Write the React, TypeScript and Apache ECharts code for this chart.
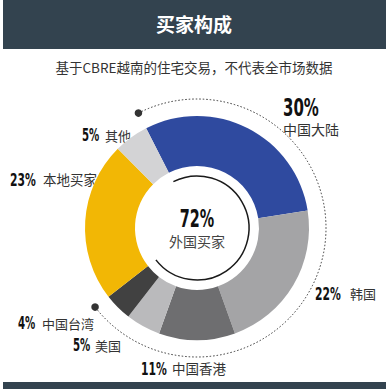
import React, { useEffect, useRef } from "react";
import * as echarts from "echarts";

const title = "买家构成";
const subtitle = "基于CBRE越南的住宅交易，不代表全市场数据";
const categories = ["中国大陆", "韩国", "中国香港", "美国", "中国台湾", "本地买家", "其他"];
const shares = [30, 22, 11, 5, 4, 23, 5];
const foreignCount = 5; // first five categories are foreign buyers
const centerLabel = "外国买家";

const sliceColors = ["#2f4a9f", "#a4a4a6", "#6e6e70", "#bababc", "#414141", "#f2b705", "#d3d3d5"];
// label layout: [pctX, pctY, nameX, nameY, pctSize, nameSize]
const labelPos: Array<[number, number, number, number, number, number]> = [
  [283, 108, 283, 129, 25, 14],
  [315, 293, 350, 293, 18, 13],
  [141, 368, 172, 368, 18, 13.5],
  [73, 345, 95, 345, 17, 13],
  [18, 323, 42, 323, 17, 13],
  [10, 179, 43, 179, 18, 13.5],
  [82, 135, 105, 135, 17, 13],
];

const CX = 197;
const CY = 228;
const R_IN = 62;
const R_OUT = 112;
const START_ANGLE = 117; // echarts degrees (ccw from 3 o'clock)
const NUM_SCALE = 0.6;

const numFont = '"DejaVu Sans", sans-serif';
const cjkFont = '"Noto Sans CJK SC", "Noto Sans", sans-serif';

export default function App() {
  const ref = useRef<HTMLDivElement>(null);
  useEffect(() => {
    if (!ref.current) return;
    const chart = echarts.init(ref.current, undefined, { renderer: "svg" });
    const total = shares.reduce((a, b) => a + b, 0);
    const foreign = shares.slice(0, foreignCount).reduce((a, b) => a + b, 0);
    const startCanvas = (-START_ANGLE * Math.PI) / 180;
    const endCanvas = startCanvas + (foreign / total) * Math.PI * 2;
    const R_DOT = 129;
    const R_THIN = 52;
    const dot = (a: number) => ({
      type: "circle",
      shape: { cx: CX + R_DOT * Math.cos(a), cy: CY + R_DOT * Math.sin(a), r: 3.8 },
      style: { fill: "#333" },
      z: 10,
    });

    const labels: any[] = [];
    categories.forEach((name, i) => {
      const [px, py, nx, ny, ps, ns] = labelPos[i];
      labels.push({
        type: "text",
        x: px,
        y: py,
        scaleX: NUM_SCALE,
        style: {
          text: shares[i] + "%",
          font: `bold ${ps}px ${numFont}`,
          fill: "#111",
          align: "left",
          verticalAlign: "middle",
        },
      });
      labels.push({
        type: "text",
        x: nx,
        y: ny,
        style: {
          text: name,
          font: `${ns}px ${cjkFont}`,
          fill: "#333",
          align: "left",
          verticalAlign: "middle",
        },
      });
    });

    chart.setOption({
      animation: false,
      backgroundColor: "#fff",
      graphic: [
        { type: "rect", shape: { x: 3, y: 0, width: 383, height: 49 }, style: { fill: "#33434f" } },
        { type: "rect", shape: { x: 3, y: 382, width: 383, height: 7 }, style: { fill: "#33434f" } },
        {
          type: "text",
          x: 194,
          y: 23,
          style: {
            text: title,
            font: `bold 19px ${cjkFont}`,
            fill: "#fff",
            align: "center",
            verticalAlign: "middle",
          },
        },
        {
          type: "text",
          x: 194,
          y: 67,
          style: {
            text: subtitle,
            font: `13.5px ${cjkFont}`,
            fill: "#333",
            align: "center",
            verticalAlign: "middle",
          },
        },
        {
          type: "arc",
          shape: { cx: CX, cy: CY, r: R_DOT, startAngle: startCanvas, endAngle: endCanvas, clockwise: true },
          style: { stroke: "#333", lineWidth: 1, lineDash: [1.5, 2], fill: null },
        },
        dot(startCanvas),
        dot(endCanvas),
        {
          type: "arc",
          shape: { cx: CX, cy: CY, r: R_THIN, startAngle: startCanvas, endAngle: endCanvas, clockwise: true },
          style: { stroke: "#1a1a1a", lineWidth: 1.5, fill: null },
        },
        {
          type: "text",
          x: CX,
          y: 219,
          scaleX: NUM_SCALE,
          style: {
            text: foreign + "%",
            font: `bold 24px ${numFont}`,
            fill: "#111",
            align: "center",
            verticalAlign: "middle",
          },
        },
        {
          type: "text",
          x: CX,
          y: 241,
          style: {
            text: centerLabel,
            font: `14px ${cjkFont}`,
            fill: "#444",
            align: "center",
            verticalAlign: "middle",
          },
        },
        ...labels,
      ],
      series: [
        {
          type: "pie",
          center: [CX, CY],
          radius: [R_IN, R_OUT],
          startAngle: START_ANGLE,
          clockwise: true,
          silent: true,
          label: { show: false },
          labelLine: { show: false },
          data: categories.map((name, i) => ({
            name,
            value: shares[i],
            itemStyle: { color: sliceColors[i] },
          })),
        },
      ],
    });
    return () => chart.dispose();
  }, []);
  return (
    <div
      ref={ref}
      style={{ position: "fixed", left: 0, top: 0, width: 388, height: 389, background: "#fff" }}
    />
  );
}
